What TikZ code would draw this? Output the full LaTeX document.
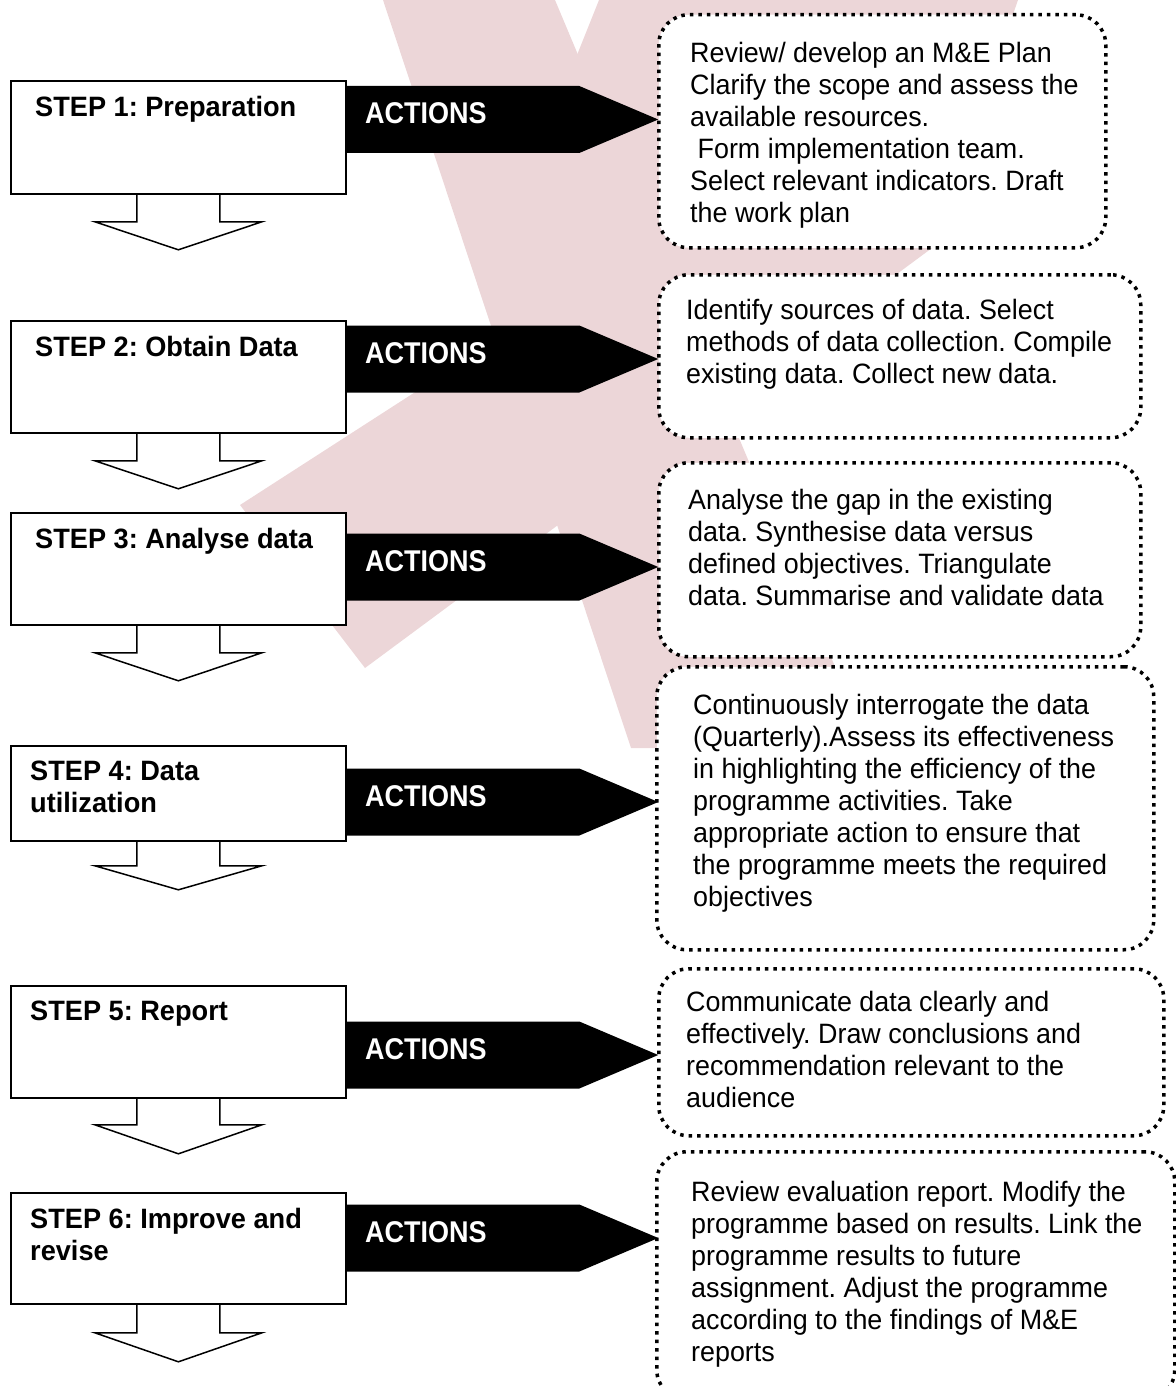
\documentclass[tikz,border=0pt]{standalone}
\usepackage{fontspec}
\setmainfont{Liberation Sans}
\newfontfamily\bodyfont[FakeStretch=0.96]{Liberation Sans}
\newfontfamily\stepfont[FakeStretch=0.97]{Liberation Sans}
\newfontfamily\actfont[FakeStretch=0.9]{Liberation Sans}
\usetikzlibrary{positioning,shapes.arrows,calc,backgrounds}
\definecolor{wmpink}{RGB}{236,214,216}
\frenchspacing

\begin{document}
\begin{tikzpicture}[
  x=1pt, y=-1pt,
  stepbox/.style={rectangle, draw, line width=1.8pt, fill=white, anchor=north west, minimum width=335pt, inner sep=0pt},
  steplbl/.style={inner sep=0pt, align=left, font=\stepfont\bfseries\fontsize{28}{32}\selectfont},
  actarrow/.style={single arrow, fill=black, single arrow head extend=0pt, single arrow tip angle=46, minimum height=313pt, minimum width=67pt, inner sep=0pt, anchor=west},
  actlbl/.style={text=white, inner sep=0pt, anchor=west, font=\actfont\bfseries\fontsize{30}{30}\selectfont},
  dotbox/.style={rectangle, rounded corners=30pt, draw, fill=white, line width=3.5pt, dash pattern=on 3.5pt off 5pt, anchor=north west, inner sep=0pt},
  acttext/.style={inner sep=0pt, align=left, font=\bodyfont\fontsize{28}{32}\selectfont},
  downarr/.style={draw, fill=white, line width=1.5pt, line join=miter}
]
\useasboundingbox (0,0) rectangle (1175,1386);

% watermark
\begin{scope}[on background layer]
  \fill[wmpink] (383,0) -- (555,0) -- (870,750) -- (631,748) -- cycle;
  \fill[wmpink] (240,505) -- (365,668) -- (932,248) -- (1018,0) -- (599,0) -- (575,60) -- (496,340) -- cycle;
\end{scope}

% steps
\node[stepbox, minimum height=113pt] (s1) at (10,80) {};
\node[stepbox, minimum height=112pt] (s2) at (10,320) {};
\node[stepbox, minimum height=112pt] (s3) at (10,512) {};
\node[stepbox, minimum height=95pt] (s4) at (10,745) {};
\node[stepbox, minimum height=112pt] (s5) at (10,985) {};
\node[stepbox, minimum height=111pt] (s6) at (10,1192) {};

\node[steplbl, below right=16pt and 25pt of s1.north west] (l1) {STEP 1: Preparation};
\node[steplbl, below right=16pt and 25pt of s2.north west] (l2) {STEP 2: Obtain Data};
\node[steplbl, below right=16pt and 25pt of s3.north west] (l3) {STEP 3: Analyse data};
\node[steplbl, below right=16pt and 20pt of s4.north west] (l4) {STEP 4: Data\\utilization};
\node[steplbl, below right=16pt and 20pt of s5.north west] (l5) {STEP 5: Report};
\node[steplbl, below right=16pt and 20pt of s6.north west] (l6) {STEP 6: Improve and\\revise};

% action boxes
\node[dotbox, minimum width=447pt, minimum height=233pt] (d1) at (657,13) {};
\node[dotbox, minimum width=482pt, minimum height=163pt] (d2) at (657,273) {};
\node[dotbox, minimum width=482pt, minimum height=194pt] (d3) at (657,461) {};
\node[dotbox, minimum width=497pt, minimum height=283pt] (d4) at (655,665) {};
\node[dotbox, minimum width=505pt, minimum height=167pt] (d5) at (657,967) {};
\node[dotbox, minimum width=518pt, minimum height=248pt] (d6) at (655,1150) {};

\node[acttext, below right=29pt and 33pt of d1.north west] (t1) {Review/ develop an M\&E Plan\\Clarify the scope and assess the\\available resources.\\\ Form implementation team.\\Select relevant indicators. Draft\\the work plan};
\node[acttext, below right=26pt and 29pt of d2.north west] (t2) {Identify sources of data. Select\\methods of data collection. Compile\\existing data. Collect new data.};
\node[acttext, below right=28pt and 31pt of d3.north west] (t3) {Analyse the gap in the existing\\data. Synthesise data versus\\defined objectives. Triangulate\\data. Summarise and validate data};
\node[acttext, below right=29pt and 38pt of d4.north west] (t4) {Continuously interrogate the data\\(Quarterly).Assess its effectiveness\\in highlighting the efficiency of the\\programme activities. Take\\appropriate action to ensure that\\the programme meets the required\\objectives};
\node[acttext, below right=24pt and 29pt of d5.north west] (t5) {Communicate data clearly and\\effectively. Draw conclusions and\\recommendation relevant to the\\audience};
\node[acttext, below right=31pt and 36pt of d6.north west] (t6) {Review evaluation report. Modify the\\programme based on results. Link the\\programme results to future\\assignment. Adjust the programme\\according to the findings of M\&E\\reports};

% ACTIONS arrows
\node[actarrow] (a1) at (345,119.5) {};
\node[actarrow] (a2) at (345,359) {};
\node[actarrow] (a3) at (345,567) {};
\node[actarrow] (a4) at (345,802) {};
\node[actarrow] (a5) at (345,1055) {};
\node[actarrow] (a6) at (345,1238) {};

\node[actlbl, right=20pt of a1.west, yshift=6pt] (c1) {ACTIONS};
\node[actlbl, right=20pt of a2.west, yshift=6pt] (c2) {ACTIONS};
\node[actlbl, right=20pt of a3.west, yshift=6pt] (c3) {ACTIONS};
\node[actlbl, right=20pt of a4.west, yshift=6pt] (c4) {ACTIONS};
\node[actlbl, right=20pt of a5.west, yshift=6pt] (c5) {ACTIONS};
\node[actlbl, right=20pt of a6.west, yshift=6pt] (c6) {ACTIONS};

% down arrows
\begin{scope}[on background layer]
  \draw[downarr] ($(s1.south)+(-41.5,0)$) -- ++(0,27) -- ++(-42,0) -- ($(s1.south)+(0,55)$) -- ($(s1.south)+(83.5,27)$) -- ++(-42,0) -- ++(0,-27);
  \draw[downarr] ($(s2.south)+(-41.5,0)$) -- ++(0,27) -- ++(-42,0) -- ($(s2.south)+(0,55)$) -- ($(s2.south)+(83.5,27)$) -- ++(-42,0) -- ++(0,-27);
  \draw[downarr] ($(s3.south)+(-41.5,0)$) -- ++(0,27) -- ++(-42,0) -- ($(s3.south)+(0,55)$) -- ($(s3.south)+(83.5,27)$) -- ++(-42,0) -- ++(0,-27);
  \draw[downarr] ($(s4.south)+(-41.5,0)$) -- ++(0,24) -- ++(-42,0) -- ($(s4.south)+(0,48)$) -- ($(s4.south)+(83.5,24)$) -- ++(-42,0) -- ++(0,-24);
  \draw[downarr] ($(s5.south)+(-41.5,0)$) -- ++(0,26) -- ++(-42,0) -- ($(s5.south)+(0,55)$) -- ($(s5.south)+(83.5,26)$) -- ++(-42,0) -- ++(0,-26);
  \draw[downarr] ($(s6.south)+(-41.5,0)$) -- ++(0,28) -- ++(-42,0) -- ($(s6.south)+(0,57)$) -- ($(s6.south)+(83.5,28)$) -- ++(-42,0) -- ++(0,-28);
\end{scope}
\end{tikzpicture}
\end{document}
